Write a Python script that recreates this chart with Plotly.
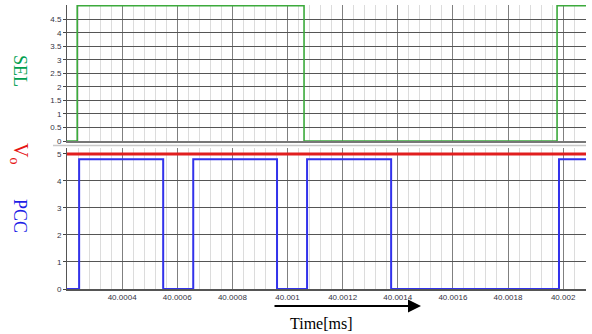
import plotly.graph_objects as go

# ---- data ----
tick_vals = [40.0004, 40.0006, 40.0008, 40.0010, 40.0012, 40.0014, 40.0016, 40.0018, 40.0020]
tick_text = ["40.0004", "40.0006", "40.0008", "40.001", "40.0012", "40.0014", "40.0016", "40.0018", "40.002"]
x_range = [40.0002, 40.002083]

sel_t = [40.0002, 40.000237, 40.00106, 40.001978, 40.002083]
sel_v = [0, 5, 0, 5, 5]

pcc_t = [40.0002, 40.000244, 40.000549, 40.000658, 40.000962, 40.001071, 40.001376, 40.001985, 40.002083]
pcc_v = [0, 4.8, 0, 4.8, 0, 4.8, 0, 4.8, 4.8]

vo_t = [40.0002, 40.002083]
vo_v = [5, 5]

sel_ticks = [0, 0.5, 1, 1.5, 2, 2.5, 3, 3.5, 4, 4.5]
sel_ticktext = ["0", "0.5", "1", "1.5", "2", "2.5", "3", "3.5", "4", "4.5"]
pcc_ticks = [0, 1, 2, 3, 4, 5]

W, H = 592, 334
L, R, T, B = 67, 6, 5, 45
plot_h = H - T - B
plot_w = W - L - R

def py(p):
    return (H - B - p) / plot_h

def px(p):
    return (p - L) / plot_w

fig = go.Figure()
fig.add_trace(go.Scatter(x=sel_t, y=sel_v, mode="lines", line=dict(color="rgb(60,170,60)", width=1.6, shape="hv"),
                         xaxis="x2", yaxis="y2", showlegend=False, hoverinfo="skip"))
fig.add_trace(go.Scatter(x=vo_t, y=vo_v, mode="lines", line=dict(color="rgb(225,30,30)", width=3),
                         xaxis="x", yaxis="y", showlegend=False, hoverinfo="skip"))
fig.add_trace(go.Scatter(x=pcc_t, y=pcc_v, mode="lines", line=dict(color="rgb(50,50,235)", width=2, shape="hv"),
                         xaxis="x", yaxis="y", showlegend=False, hoverinfo="skip"))

minor = dict(tick0=40.0002, dtick=0.00004, showgrid=True, gridcolor="#dcdcdc", gridwidth=1, ticks="")
tickfont = dict(family="Liberation Sans", size=8, color="#333344")

fig.update_layout(
    width=W, height=H,
    margin=dict(l=L, r=R, t=T, b=B),
    paper_bgcolor="white", plot_bgcolor="white",
    xaxis=dict(domain=[0, 1], range=x_range, tickvals=tick_vals, ticktext=tick_text,
               showgrid=True, gridcolor="#808080", gridwidth=1.2, minor=minor,
               tickfont=tickfont, ticks="", showline=True, linecolor="#555", linewidth=1.5,
               zeroline=False, anchor="y"),
    xaxis2=dict(domain=[0, 1], range=x_range, tickvals=tick_vals, showticklabels=False,
                showgrid=True, gridcolor="#808080", gridwidth=1.2, minor=minor,
                ticks="", showline=True, linecolor="#777", linewidth=2,
                zeroline=False, anchor="y2", matches="x"),
    yaxis=dict(domain=[0, py(148)], range=[0, 5.22], tickvals=pcc_ticks,
               showgrid=True, gridcolor="#555", gridwidth=1.2, zeroline=False,
               ticks="outside", ticklen=3, tickcolor="#444", tickfont=tickfont,
               showline=True, linecolor="#555", linewidth=1, anchor="x"),
    yaxis2=dict(domain=[py(141), 1], range=[0, 5.03], tickvals=sel_ticks, ticktext=sel_ticktext,
                showgrid=True, gridcolor="#555", gridwidth=1.2, zeroline=False,
                ticks="outside", ticklen=3, tickcolor="#444", tickfont=tickfont,
                showline=True, linecolor="#555", linewidth=1, anchor="x2"),
)

serif = "Liberation Serif"
common = dict(xref="paper", yref="paper", showarrow=False, xanchor="center", yanchor="middle")
fig.add_annotation(text="SEL", x=px(20), y=py(71), textangle=90,
                   font=dict(family=serif, size=18, color="rgb(0,160,80)"), **common)
fig.add_annotation(text="V<sub>o</sub>", x=px(20), y=py(153), textangle=90,
                   font=dict(family=serif, size=20, color="rgb(230,20,20)"), **common)
fig.add_annotation(text="PCC", x=px(20), y=py(216), textangle=90,
                   font=dict(family=serif, size=18, color="rgb(30,30,230)"), **common)
fig.add_annotation(text="Time[ms]", x=px(321), y=py(323),
                   font=dict(family=serif, size=16, color="black"), **common)
fig.add_annotation(text="", xref="paper", yref="paper", x=px(421), y=py(306),
                   ax=-(421 - 273), ay=0,
                   showarrow=True, arrowhead=2, arrowsize=1.3, arrowwidth=2, arrowcolor="black")

# separator line between panels
fig.add_shape(type="line", xref="paper", yref="paper", x0=px(53), x1=1, y0=py(145.5), y1=py(145.5),
              line=dict(color="#c8c8c8", width=1.5))

fig.write_html("out.html")
